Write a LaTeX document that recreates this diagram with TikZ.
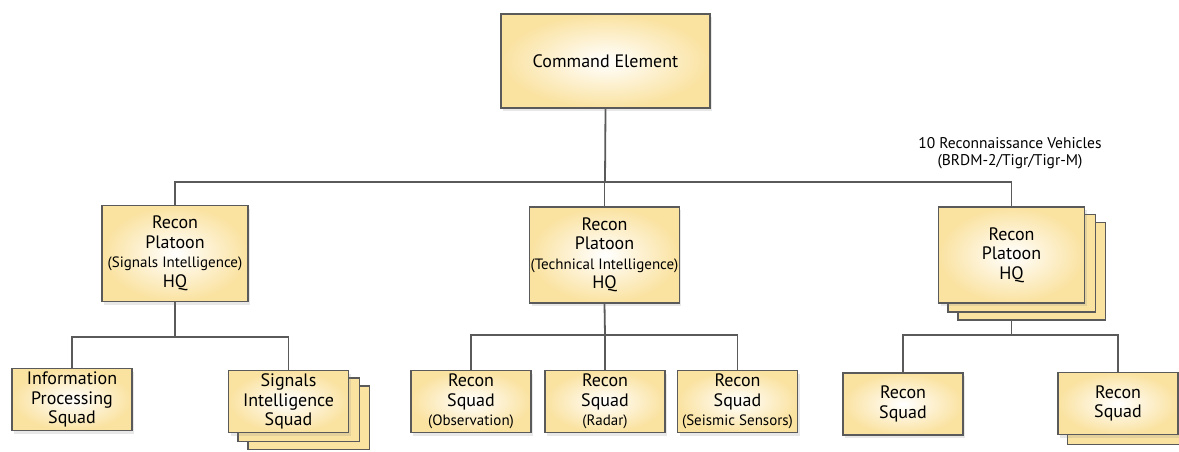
\documentclass[tikz,border=0pt]{standalone}
\usepackage{fontspec}
\setmainfont{PT Sans}
\usetikzlibrary{shadows,backgrounds}
\definecolor{boxtan}{RGB}{250,226,160}
\definecolor{linegray}{RGB}{90,90,90}

\newcommand{\paren}[1]{{\fontsize{15}{17}\selectfont #1}}

\begin{document}
\begin{tikzpicture}[x=1pt,y=-1pt,
    unit/.style={draw=linegray, line width=1.5pt, shading=radial, inner color=white,
        outer color=boxtan, align=center, inner sep=1pt,
        font=\fontsize{18}{19.5}\selectfont,
        drop shadow={shadow xshift=2pt, shadow yshift=-3pt, opacity=0.18}},
    platoon/.style={unit, minimum width=146pt, minimum height=96pt},
    squad/.style={unit, minimum width=120pt, minimum height=62pt},
    backbox/.style={draw=linegray, line width=1.5pt, fill=boxtan},
    link/.style={draw=linegray, line width=1.8pt}]
    \useasboundingbox (0,0) rectangle (1179,451);

    \node[unit, minimum width=209pt, minimum height=94pt] (cmd) at (605.5,61) {Command Element};

    \node[platoon] (plA) at (175,253.5) {Recon\\Platoon\\\paren{(Signals Intelligence)}\\HQ};
    \node[platoon] (plB) at (604.5,255) {Recon\\Platoon\\\paren{(Technical Intelligence)}\\HQ};
    \node[platoon] (plC) at (1011.5,255) {Recon\\Platoon\\HQ};

    \node[squad] (info) at (72,399.5) {Information\\Processing\\Squad};
    \node[squad] (sig) at (288.5,401.5) {Signals\\Intelligence\\Squad};
    \node[squad] (obs) at (471,401.5) {Recon\\Squad\\\paren{(Observation)}};
    \node[squad] (radar) at (605,401.5) {Recon\\Squad\\\paren{(Radar)}};
    \node[squad] (seis) at (737.5,401.5) {Recon\\Squad\\\paren{(Seismic Sensors)}};
    \node[squad] (rsqA) at (903,404) {Recon\\Squad};
    \node[squad] (rsqB) at (1118,403.5) {Recon\\Squad};

    \node[align=center, font=\fontsize{15.5}{17}\selectfont] (veh) at (1010,153)
        {10 Reconnaissance Vehicles\\(BRDM-2/Tigr/Tigr-M)};

    \coordinate (bus) at (605,182);
    \coordinate (busA) at (175,337);
    \coordinate (busB) at (605,335);
    \coordinate (busC) at (1011.5,335);

    \begin{scope}[on background layer]
        \draw[link] (cmd.south) -- (bus);
        \draw[link] (plA.north) |- (bus) -| (plC.north);
        \draw[link] (plB.north) -- (plB.north |- bus);
        \draw[link] (plA.south) -- (busA);
        \draw[link] (info.north) |- (busA) -| (sig.north);
        \draw[link] (plB.south) -- (busB);
        \draw[link] (obs.north) |- (busB) -| (seis.north);
        \draw[link] (radar.north) -- (busB);
        \draw[link] (plC.south) -- (busC);
        \draw[link] (rsqA.north) |- (busC) -| (rsqB.north);

        \draw[backbox] ([shift={(20pt,-16pt)}]sig.south west) rectangle ([shift={(20pt,-16pt)}]sig.north east);
        \draw[backbox] ([shift={(10pt,-8pt)}]sig.south west) rectangle ([shift={(10pt,-8pt)}]sig.north east);
        \draw[backbox] ([shift={(20pt,-16pt)}]plC.south west) rectangle ([shift={(20pt,-16pt)}]plC.north east);
        \draw[backbox] ([shift={(10pt,-8pt)}]plC.south west) rectangle ([shift={(10pt,-8pt)}]plC.north east);
        \draw[backbox] ([shift={(10pt,-9pt)}]rsqB.south west) rectangle ([shift={(10pt,-9pt)}]rsqB.north east);
    \end{scope}
\end{tikzpicture}
\end{document}
